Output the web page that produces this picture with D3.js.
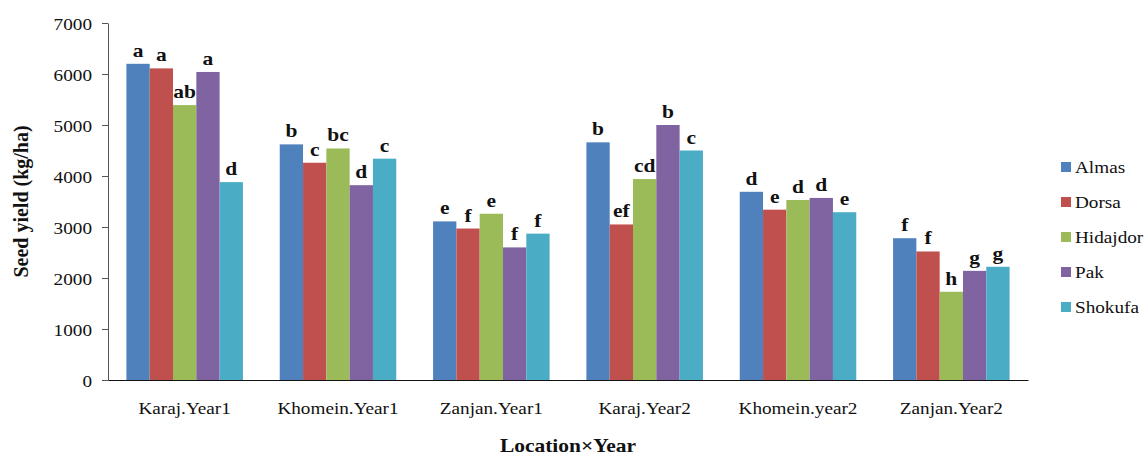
<!DOCTYPE html>
<html>
<head>
<meta charset="utf-8">
<script src="https://cdn.jsdelivr.net/npm/d3@7"></script>
<style>
  html, body { margin: 0; padding: 0; background: #fff; }
</style>
</head>
<body>
<svg id="chart" width="1146" height="459"></svg>
<script>
// Location × year combinations (x groups)
const groups = ["Karaj.Year1", "Khomein.Year1", "Zanjan.Year1", "Karaj.Year2", "Khomein.year2", "Zanjan.Year2"];
// Cultivars (series)
const cultivars = ["Almas", "Dorsa", "Hidajdor", "Pak", "Shokufa"];
const colors = ["#4F81BD", "#C0504D", "#9BBB59", "#8064A2", "#4BACC6"];

// Seed yield (kg/ha) per cultivar, in group order
const almas    = [6200, 4620, 3110, 4660, 3690, 2780];
const dorsa    = [6110, 4260, 2970, 3050, 3340, 2520];
const hidajdor = [5390, 4540, 3260, 3940, 3530, 1730];
const pak      = [6040, 3820, 2600, 5000, 3570, 2140];
const shokufa  = [3880, 4340, 2870, 4500, 3290, 2220];

// Mean-separation letters per cultivar, in group order
const lettersAlmas    = ["a", "b", "e", "b", "d", "f"];
const lettersDorsa    = ["a", "c", "f", "ef", "e", "f"];
const lettersHidajdor = ["ab", "bc", "e", "cd", "d", "h"];
const lettersPak      = ["a", "d", "f", "b", "d", "g"];
const lettersShokufa  = ["d", "c", "f", "c", "e", "g"];

const yTicks = [0, 1000, 2000, 3000, 4000, 5000, 6000, 7000];

const seriesValues = [almas, dorsa, hidajdor, pak, shokufa];
const seriesLetters = [lettersAlmas, lettersDorsa, lettersHidajdor, lettersPak, lettersShokufa];

const rows = [];
cultivars.forEach((c, i) => {
  groups.forEach((g, j) => {
    rows.push({ group: g, cultivar: c, value: seriesValues[i][j], letter: seriesLetters[i][j], color: colors[i] });
  });
});

const FONT = "'Liberation Serif', 'Times New Roman', serif";
const svg = d3.select("#chart");
const plot = { left: 108, right: 1028, top: 23, bottom: 380 };
const stretch = 1.13; // wide text face

const x0 = d3.scaleBand().domain(groups).range([plot.left, plot.right]).paddingInner(0.24).paddingOuter(0.12);
const x1 = d3.scaleBand().domain(cultivars).range([0, x0.bandwidth()]);
const y = d3.scaleLinear().domain([0, 7000]).range([plot.bottom, plot.top]);

// Places a horizontally widened serif text at (x, y)
function wideText(sel, x, yy, anchor) {
  return sel.attr("transform", `translate(${x},${yy}) scale(${stretch},1)`)
    .attr("text-anchor", anchor)
    .style("font-family", FONT);
}

// Bars
svg.append("g").selectAll("rect").data(rows).join("rect")
  .attr("x", d => x0(d.group) + x1(d.cultivar))
  .attr("y", d => y(d.value))
  .attr("width", x1.bandwidth())
  .attr("height", d => y(0) - y(d.value))
  .attr("fill", d => d.color);

// Letters above bars
svg.append("g").selectAll("text").data(rows).join("text")
  .each(function (d) {
    wideText(d3.select(this), x0(d.group) + x1(d.cultivar) + x1.bandwidth() / 2, y(d.value) - 7, "middle");
  })
  .style("font-weight", "bold")
  .style("font-size", "19px")
  .attr("fill", "#111")
  .text(d => d.letter);

// Y axis
const yAxis = svg.append("g")
  .attr("transform", `translate(${plot.left},0)`)
  .call(d3.axisLeft(y).tickValues(yTicks).tickFormat(d3.format("d")).tickSize(6).tickSizeOuter(0));
yAxis.select(".domain").attr("stroke", "#555");
yAxis.selectAll(".tick line").attr("stroke", "#555");
yAxis.selectAll(".tick text")
  .attr("x", null).attr("dy", null)
  .each(function () { wideText(d3.select(this), -16, 6, "end"); })
  .style("font-size", "17px")
  .attr("fill", "#111");

// X axis baseline with category labels
const xAxis = svg.append("g")
  .attr("transform", `translate(0,${plot.bottom})`)
  .call(d3.axisBottom(x0).tickSize(0).tickSizeOuter(0));
xAxis.select(".domain").attr("stroke", "#111").attr("stroke-width", 1.2);
xAxis.selectAll(".tick text")
  .attr("y", null).attr("dy", null)
  .each(function () { wideText(d3.select(this), 0, 34, "middle"); })
  .style("font-size", "17px")
  .attr("fill", "#111");

// Axis titles
svg.append("text")
  .attr("transform", `translate(28,${(plot.top + plot.bottom) / 2}) rotate(-90) scale(1,1.05)`)
  .attr("text-anchor", "middle")
  .style("font-family", FONT)
  .style("font-weight", "bold")
  .style("font-size", "20px")
  .attr("fill", "#111")
  .text("Seed yield (kg/ha)");

wideText(svg.append("text"), (plot.left + plot.right) / 2, 452, "middle")
  .style("font-weight", "bold")
  .style("font-size", "19px")
  .attr("fill", "#111")
  .text("Location×Year");

// Legend
const legend = svg.append("g").attr("transform", "translate(1061,167)");
const item = legend.selectAll("g").data(cultivars).join("g")
  .attr("transform", (d, i) => `translate(0,${i * 35})`);
item.append("rect").attr("x", 0).attr("y", -5).attr("width", 10).attr("height", 10)
  .attr("fill", (d, i) => colors[i]);
item.append("text")
  .each(function () { wideText(d3.select(this), 14, 6, "start"); })
  .style("font-size", "17px")
  .attr("fill", "#111")
  .text(d => d);
</script>
</body>
</html>
